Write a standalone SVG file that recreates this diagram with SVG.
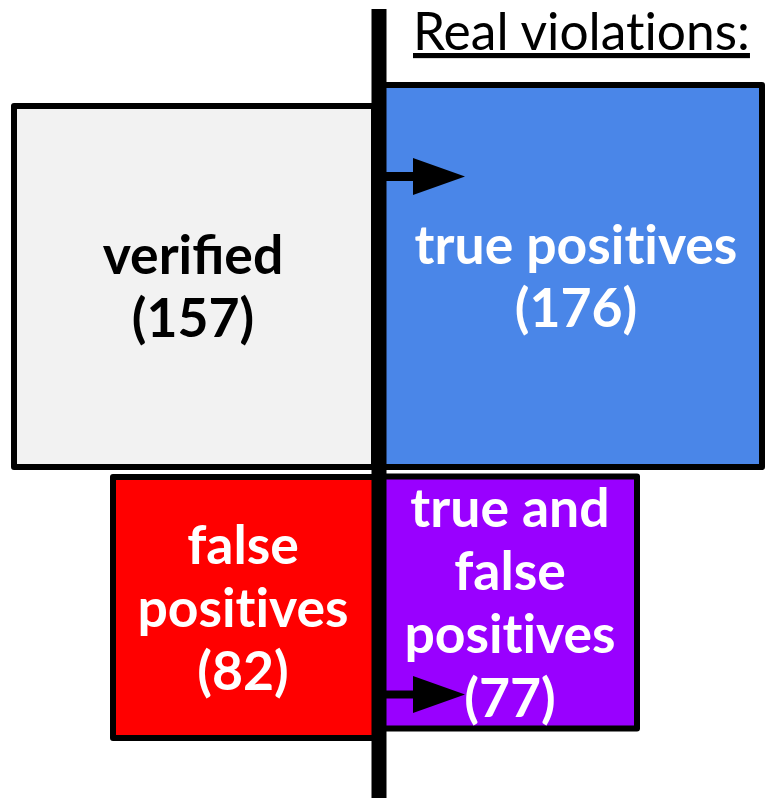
<svg xmlns="http://www.w3.org/2000/svg" width="765" height="798" viewBox="0 0 765 798">
  <style>
    .box { stroke: #000; stroke-width: 6; stroke-linejoin: round; }
    .lbl { font-family: Lato, "Open Sans", "Liberation Sans", sans-serif; font-weight: bold; font-size: 53.5px; text-anchor: middle; }
    .w { fill: #fff; }
    .k { fill: #000; }
    .nl { font-variant-ligatures: none; }
    .title { font-family: Lato, "Open Sans", "Liberation Sans", sans-serif; font-size: 51.5px; fill: #000; text-decoration: underline; font-variant-ligatures: none; }
  </style>
  <defs>
    <marker id="ah" viewBox="0 0 52 37" markerWidth="52" markerHeight="37" refX="1" refY="18.5" orient="auto" markerUnits="userSpaceOnUse">
      <path d="M0,0 L52,18.5 L0,37 Z" fill="#000"/>
    </marker>
  </defs>
  <rect width="765" height="798" fill="#fff"/>

  <g id="verified">
    <rect class="box" x="14" y="106" width="360" height="361" fill="#f2f2f2"/>
    <text class="lbl k" x="193" y="274">verified</text>
    <text class="lbl k" x="193" y="337">(157)</text>
  </g>
  <g id="true-positives">
    <rect class="box" x="380" y="85" width="382" height="382" fill="#4a86e8"/>
    <text class="lbl w nl" x="576" y="264">true positives</text>
    <text class="lbl w" x="576" y="327">(176)</text>
  </g>
  <g id="false-positives">
    <rect class="box" x="113" y="477" width="267" height="261" fill="#ff0000"/>
    <text class="lbl w" x="243" y="564">false</text>
    <text class="lbl w nl" x="243" y="627">positives</text>
    <text class="lbl w" x="243" y="690">(82)</text>
  </g>
  <g id="true-and-false-positives">
    <rect class="box" x="378" y="476.5" width="259" height="252" fill="#9900ff"/>
    <text class="lbl w" x="510" y="527">true and</text>
    <text class="lbl w" x="510" y="590">false</text>
    <text class="lbl w nl" x="510" y="653">positives</text>
  </g>

  <g id="divider">
    <rect x="371.5" y="9" width="15" height="789" fill="#000"/>
    <text class="title" x="413" y="50">Real violations:</text>
  </g>

  <g id="connectors">
    <line x1="386" y1="176.5" x2="414" y2="176.5" stroke="#000" stroke-width="9" marker-end="url(#ah)"/>
    <line x1="386" y1="694.5" x2="414" y2="694.5" stroke="#000" stroke-width="8" marker-end="url(#ah)"/>
  </g>

  <g id="true-and-false-count">
    <text class="lbl w" x="510" y="717">(77)</text>
  </g>
</svg>
